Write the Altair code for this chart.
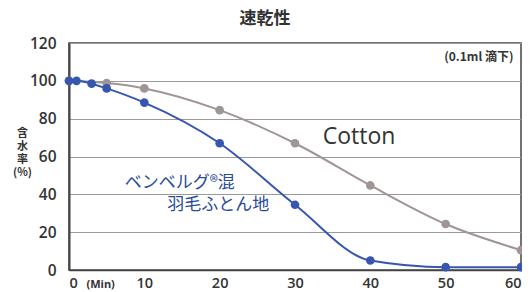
import altair as alt
import pandas as pd

# data
blue_min = [0, 1, 3, 5, 10, 20, 30, 40, 50, 60]
blue_val = [100, 100, 98.5, 96, 88.5, 67, 34.5, 5, 1.5, 1.5]
gray_min = [0, 5, 10, 20, 30, 40, 50, 60]
gray_val = [100, 98.8, 96, 84.5, 67, 44.7, 24.3, 10.5]
x_ticks = [0, 10, 20, 30, 40, 50, 60]
y_ticks = [0, 20, 40, 60, 80, 100, 120]

BLUE = "#3656b0"
GRAY = "#a09595"
DARK = "#333333"
FONT = "Noto Sans CJK JP"

df_b = pd.DataFrame({"min": blue_min, "val": blue_val, "s": "blue"})
df_g = pd.DataFrame({"min": gray_min, "val": gray_val, "s": "gray"})

xs = alt.Scale(domain=[0, 60], nice=False, zero=False)
ys = alt.Scale(domain=[0, 120], nice=False)

xax = alt.Axis(values=x_ticks, title=None, grid=False, ticks=False, labelPadding=6,
               labelFontSize=14.5, labelColor=DARK, labelFont="Open Sans", labelFontWeight=600,
               labelOverlap=False, domainColor="#444", domainWidth=1.5)
yax = alt.Axis(values=y_ticks, title=["含", "水", "率", " ", "(%)"], titleAngle=0,
               titleAlign="center", titleBaseline="middle", titleX=-47, titleY=90,
               titleFontSize=11, titleLineHeight=13, titleColor=DARK, titleFont=FONT,
               titleFontWeight=600,
               grid=True, gridColor="#9a9a9a", gridWidth=1, ticks=False, labelPadding=13,
               labelFontSize=15.5, labelColor=DARK, labelFont="Open Sans", labelFontWeight=600,
               labelOverlap=False, domainColor="#444", domainWidth=2)

def series(df, color):
    base = alt.Chart(df).encode(
        x=alt.X("min:Q", scale=xs, axis=xax),
        y=alt.Y("val:Q", scale=ys, axis=yax),
    )
    line = base.mark_line(color=color, strokeWidth=2, interpolate="monotone")
    pts = base.mark_circle(color=color, size=75, opacity=1)
    return line + pts

def label(text, x, y, size, color, weight="normal", align="center", font=FONT):
    return alt.Chart(pd.DataFrame({"min": [x], "val": [y], "t": [text]})).mark_text(
        fontSize=size, color=color, fontWeight=weight, align=align, baseline="middle", font=font
    ).encode(x=alt.X("min:Q", scale=xs, axis=xax), y=alt.Y("val:Q", scale=ys, axis=yax), text="t:N")

annot = (
    label("Cotton", 38.5, 70.2, 23, DARK, weight=500, font="Open Sans")
    + label("(0.1ml 滴下)", 59.0, 112.6, 12, DARK, weight="bold", align="right")
    + label("ベンベルグ®混", 14.7, 45.8, 17, "#2a4a9a")
    + label("羽毛ふとん地", 19.8, 34.2, 17, "#2a4a9a")
    + label("(Min)", 4.2, -8.0, 11, DARK, weight="bold", font="Open Sans")
)

chart = alt.layer(series(df_g, GRAY), series(df_b, BLUE), annot).properties(
    width=452, height=227,
    title=alt.TitleParams("速乾性", font=FONT, fontSize=17, fontWeight="bold", color=DARK,
                          anchor="middle", dx=-30, offset=8),
    autosize=alt.AutoSizeParams(type="none"),
    padding={"left": 61, "top": 35, "right": 1, "bottom": 22},
).configure_view(stroke="#444", strokeWidth=1.5)

chart.save("out.html", embed_options={"renderer": "svg", "actions": False})
